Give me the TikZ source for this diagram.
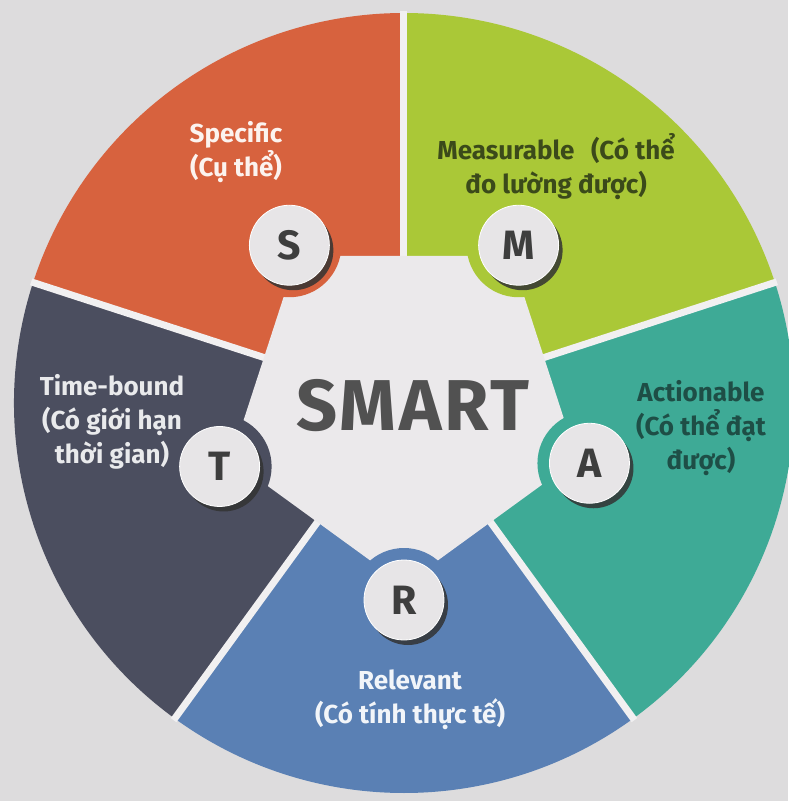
\documentclass[tikz,border=0pt]{standalone}
\usepackage{fontspec}
\setmainfont{Fira Sans}
\usetikzlibrary{shadows}
\definecolor{paper}{HTML}{DDDCDD}
\definecolor{gapwhite}{HTML}{F1F0F1}
\definecolor{hubwhite}{HTML}{EBE9EB}
\definecolor{sred}{HTML}{D7623E}
\definecolor{mgreen}{HTML}{AAC837}
\definecolor{ateal}{HTML}{3EAA96}
\definecolor{rblue}{HTML}{5A80B4}
\definecolor{tslate}{HTML}{4B4E5F}
\definecolor{discgray}{HTML}{E7E5E7}
\definecolor{inkgray}{HTML}{3E3E3E}
\definecolor{mtext}{HTML}{3B4A1A}
\definecolor{atext}{HTML}{1E4E46}
\tikzset{%
  gap/.style = {draw=gapwhite,line width=7pt},
  letter/.style = {circle,fill=discgray,draw=white,line width=0.8pt,
        minimum size=80pt,inner sep=0pt,text=inkgray,
        font=\fontsize{41}{41}\selectfont\bfseries,
        drop shadow={shadow xshift=4pt,shadow yshift=-5pt,
        fill=black!80,opacity=0.85}},
  lbl/.style = {align=center,font=\fontsize{26}{34}\selectfont\bfseries}
}
\begin{document}
\begin{tikzpicture}[x=1pt,y=1pt]
\useasboundingbox (-404,-398) rectangle (384,403);
\fill[paper] (-404,-398) rectangle (384,403);
% slices
\fill[sred] (0,0) -- (90:390pt) arc[start angle=90,end angle=162,radius=390pt] -- cycle;
\fill[mgreen] (0,0) -- (18:390pt) arc[start angle=18,end angle=90,radius=390pt] -- cycle;
\fill[ateal] (0,0) -- (-54:390pt) arc[start angle=-54,end angle=18,radius=390pt] -- cycle;
\fill[rblue] (0,0) -- (-126:390pt) arc[start angle=-126,end angle=-54,radius=390pt] -- cycle;
\fill[tslate] (0,0) -- (162:390pt) arc[start angle=162,end angle=234,radius=390pt] -- cycle;
\foreach \a in {90,18,-54,-126,162}
    \draw[gap] (0,0) -- (\a:392pt);
% hub
\coordinate (ps) at (126:195pt);
\coordinate (pm) at (54:195pt);
\coordinate (pa) at (-18:195pt);
\coordinate (pr) at (-90:197pt);
\coordinate (pt) at (199:195pt);
\fill[hubwhite] (126:182pt) -- (54:182pt) -- (-18:182pt)
    -- (-90:182pt) -- (198:182pt) -- cycle;
\fill[sred] (ps) circle[radius=52pt];
\fill[mgreen] (pm) circle[radius=52pt];
\fill[ateal] (pa) circle[radius=52pt];
\fill[rblue] (pr) circle[radius=52pt];
\fill[tslate] (pt) circle[radius=52pt];
\node[text=inkgray!90,font=\fontsize{72}{72}\selectfont\bfseries\addfontfeature{LetterSpace=4}] (smart) at (9,-3) {SMART};
% letters
\node[letter] (s) at (ps) {S};
\node[letter] (m) at (pm) {M};
\node[letter] (a) at (pa) {A};
\node[letter] (r) at (pr) {R};
\node[letter] (t) at (pt) {T};
% labels
\node[lbl,text=white!92!sred] (spec) at (-168,251) {Specific\\(Cụ thể)};
\node[lbl,text=mtext] (meas) at (152,236) {Measurable\hspace{0.4em} (Có thể\\đo lường được)};
\node[lbl,text=atext] (act) at (297,-25) {Actionable\\(Có thể đạt\\được)};
\node[lbl,text=white!88!tslate] (time) at (-292,-19) {Time-bound\\(Có giới hạn\\thời gian)};
\node[lbl,text=white!92!rblue] (rel) at (6,-297) {Relevant\\(Có tính thực tế)};
\end{tikzpicture}
\end{document}
